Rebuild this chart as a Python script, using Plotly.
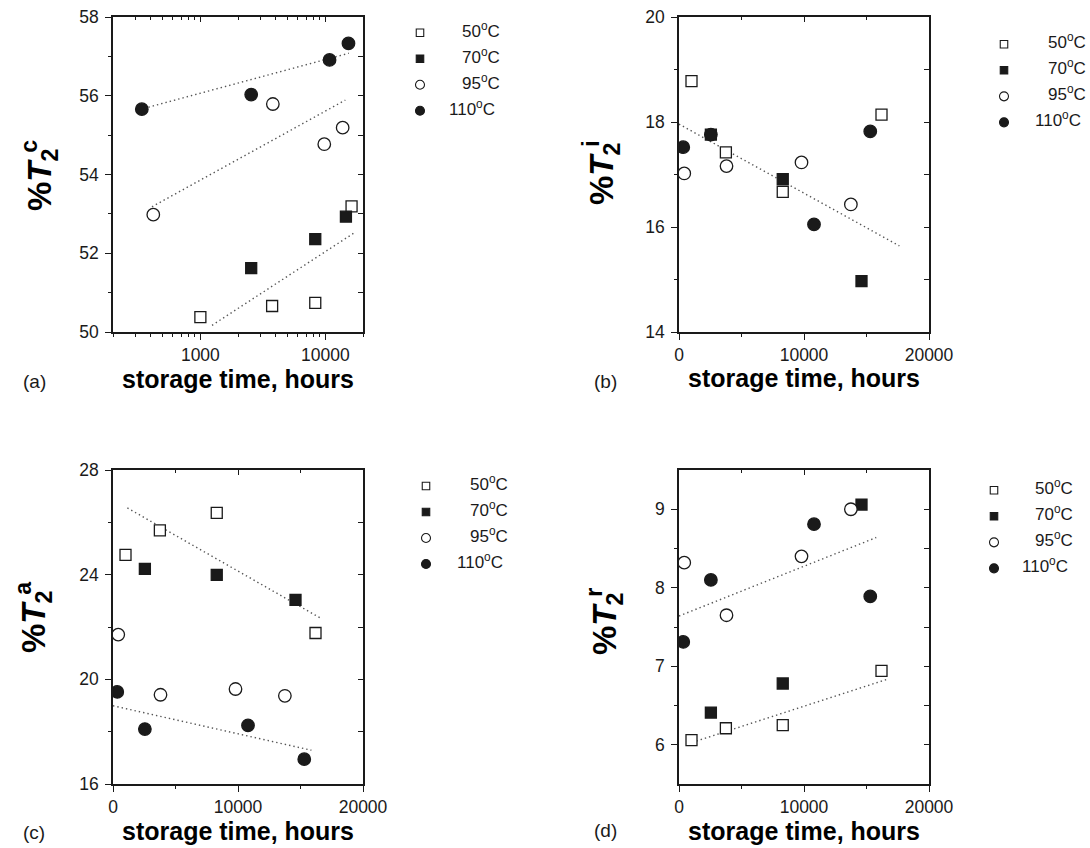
import plotly.graph_objects as go

W, H = 1090, 848
FONT = "Liberation Sans, Arial, sans-serif"
INK = "#1a1a1a"

# ---------------- data ----------------
temps = ["50", "70", "95", "110"]
t50 = [1000, 3750, 8300, 16200]
t70 = [2550, 8300, 14600]
t95 = [420, 3800, 9800, 13750]
t110 = [340, 2550, 10800, 15300]

# (a) %T2c
a50 = [50.38, 50.66, 50.74, 53.19]
a70 = [51.62, 52.36, 52.93]
a95 = [52.98, 55.79, 54.77, 55.19]
a110 = [55.66, 56.03, 56.91, 57.33]
# (b) %T2i
b50 = [18.78, 17.42, 16.67, 18.14]
b70 = [17.76, 16.91, 14.97]
b95 = [17.02, 17.16, 17.23, 16.43]
b110 = [17.52, 17.76, 16.05, 17.82]
# (c) %T2a
c50 = [24.76, 25.69, 26.36, 21.77]
c70 = [24.22, 23.99, 23.04]
c95 = [21.71, 19.41, 19.63, 19.37]
c110 = [19.52, 18.10, 18.24, 16.95]
# (d) %T2r
d50 = [6.06, 6.21, 6.25, 6.94]
d70 = [6.41, 6.78, 9.06]
d95 = [8.32, 7.65, 8.40, 9.00]
d110 = [7.31, 8.10, 8.81, 7.89]

# dotted trend lines (x pair, y pair)
fit_a_x = [[355, 15400], [410, 14450], [1240, 16860]]
fit_a_y = [[55.68, 57.08], [53.18, 55.89], [50.17, 52.51]]
fit_b_x = [[0, 17630]]
fit_b_y = [[17.96, 15.64]]
fit_c_x = [[1150, 16670], [0, 15870]]
fit_c_y = [[26.55, 22.32], [18.99, 17.29]]
fit_d_x = [[0, 15780], [1060, 16580]]
fit_d_y = [[7.64, 8.64], [6.03, 6.83]]

legend_labels = ["50<sup>o</sup>C", "70<sup>o</sup>C", "95<sup>o</sup>C", "110<sup>o</sup>C"]
panel_labels = ["(a)", "(b)", "(c)", "(d)"]
panel_sup = ["c", "i", "a", "r"]
lin_ticks = [0, 10000, 20000]
lin_ticktext = ["0", "10000", "20000"]

# ---------------- helpers ----------------
def px(x):
    return x / W

def py(y):
    return 1 - y / H

styles = {
    "50": dict(symbol="square", color="white", size=11),
    "70": dict(symbol="square", color=INK, size=11),
    "95": dict(symbol="circle", color="white", size=12.5),
    "110": dict(symbol="circle", color=INK, size=12.5),
}

fig = go.Figure()

panels = [
    ("x", "y", "legend", [t50, t70, t95, t110], [a50, a70, a95, a110], fit_a_x, fit_a_y),
    ("x2", "y2", "legend2", [t50, t70, t95, t110], [b50, b70, b95, b110], fit_b_x, fit_b_y),
    ("x3", "y3", "legend3", [t50, t70, t95, t110], [c50, c70, c95, c110], fit_c_x, fit_c_y),
    ("x4", "y4", "legend4", [t50, t70, t95, t110], [d50, d70, d95, d110], fit_d_x, fit_d_y),
]

for xa, ya, lg, xs, ys, fx, fy in panels:
    for lx, ly in zip(fx, fy):
        fig.add_trace(go.Scatter(x=lx, y=ly, mode="lines", xaxis=xa, yaxis=ya,
                                 line=dict(color="#555555", width=1.4, dash="1.4px,3px"),
                                 showlegend=False, hoverinfo="skip"))
    for T, lab, xv, yv in zip(temps, legend_labels, xs, ys):
        st = styles[T]
        fig.add_trace(go.Scatter(x=xv, y=yv, mode="markers", xaxis=xa, yaxis=ya, name=lab,
                                 marker=dict(symbol=st["symbol"], size=st["size"], color=st["color"],
                                             line=dict(color=INK, width=1.3)),
                                 showlegend=False))
    # legend symbols (labels are drawn as right-aligned text next to them)
    for T in temps:
        st = styles[T]
        fig.add_trace(go.Scatter(x=[None], y=[None], mode="markers", xaxis=xa, yaxis=ya,
                                 name="\u00a0", legend=lg,
                                 marker=dict(symbol=st["symbol"], size=st["size"] - 3.5, color=st["color"],
                                             line=dict(color=INK, width=1.1)),
                                 showlegend=True))

base_axis = dict(showline=True, linecolor=INK, linewidth=1.5, mirror=True,
                 ticks="outside", ticklen=6, tickwidth=1.4, tickcolor=INK,
                 showgrid=False, zeroline=False,
                 tickfont=dict(family=FONT, size=17.5, color=INK))

x_left = [113, 363]
x_right = [679, 929]
y_top = [17, 332]
y_bot = [470, 784]

log_minor = [200, 300, 400, 500, 600, 700, 800, 900, 2000, 3000, 4000, 5000, 6000, 7000, 8000, 9000, 20000]
mn = lambda vals: dict(ticks="outside", ticklen=3, tickwidth=1.2, tickcolor=INK, tickvals=vals)

xdefs = {
    "xaxis": dict(base_axis, domain=[px(x_left[0]), px(x_left[1])], anchor="y", type="log",
                  range=[2.30103, 4.30103], tickvals=[1000, 10000], ticktext=["1000", "10000"],
                  minor=mn(log_minor)),
    "xaxis2": dict(base_axis, domain=[px(x_right[0]), px(x_right[1])], anchor="y2",
                   range=[0, 20000], tickvals=lin_ticks, ticktext=lin_ticktext, minor=mn([5000, 15000])),
    "xaxis3": dict(base_axis, domain=[px(x_left[0]), px(x_left[1])], anchor="y3",
                   range=[0, 20000], tickvals=lin_ticks, ticktext=lin_ticktext, minor=mn([5000, 15000])),
    "xaxis4": dict(base_axis, domain=[px(x_right[0]), px(x_right[1])], anchor="y4",
                   range=[0, 20000], tickvals=lin_ticks, ticktext=lin_ticktext, minor=mn([5000, 15000])),
}
ydefs = {
    "yaxis": dict(base_axis, domain=[py(y_top[1]), py(y_top[0])], anchor="x", range=[50, 58],
                  tickvals=[50, 52, 54, 56, 58], minor=mn([51, 53, 55, 57]), ticklabelstandoff=3),
    "yaxis2": dict(base_axis, domain=[py(y_top[1]), py(y_top[0])], anchor="x2", range=[14, 20],
                   tickvals=[14, 16, 18, 20], minor=mn([15, 17, 19]), ticklabelstandoff=3),
    "yaxis3": dict(base_axis, domain=[py(y_bot[1]), py(y_bot[0])], anchor="x3", range=[16, 28],
                   tickvals=[16, 20, 24, 28], minor=mn([18, 22, 26]), ticklabelstandoff=3),
    "yaxis4": dict(base_axis, domain=[py(y_bot[1]), py(y_bot[0])], anchor="x4", range=[5.5, 9.5],
                   tickvals=[6, 7, 8, 9], minor=mn([6.5, 7.5, 8.5]), ticklabelstandoff=3),
}

layout = dict(width=W, height=H, margin=dict(l=0, r=0, t=0, b=0, autoexpand=False),
              paper_bgcolor="white", plot_bgcolor="white", showlegend=True,
              font=dict(family=FONT, color=INK))
layout.update(xdefs)
layout.update(ydefs)

# overlay axes carrying the inward ticks on the top and right edges
for i, (bx, by) in enumerate([("x", "y"), ("x2", "y2"), ("x3", "y3"), ("x4", "y4")]):
    k = i + 5
    xsrc = xdefs["xaxis" if bx == "x" else "xaxis" + bx[1:]]
    ysrc = ydefs["yaxis" if by == "y" else "yaxis" + by[1:]]
    layout["xaxis%d" % k] = dict(overlaying=bx, side="top", anchor=by, type=xsrc.get("type", "linear"),
                                  range=xsrc["range"], tickvals=xsrc["tickvals"], showticklabels=False,
                                  ticks="inside", ticklen=5, tickwidth=1.3, tickcolor=INK,
                                  showline=False, showgrid=False, zeroline=False,
                                  minor=dict(ticks="inside", ticklen=3, tickwidth=1.1, tickcolor=INK,
                                             tickvals=xsrc["minor"]["tickvals"]))
    layout["yaxis%d" % k] = dict(overlaying=by, side="right", anchor=bx,
                                  range=ysrc["range"], tickvals=ysrc["tickvals"], showticklabels=False,
                                  ticks="inside", ticklen=5, tickwidth=1.3, tickcolor=INK,
                                  showline=False, showgrid=False, zeroline=False,
                                  minor=dict(ticks="inside", ticklen=5, tickwidth=1.1, tickcolor=INK,
                                             tickvals=ysrc["minor"]["tickvals"]))
    fig.add_trace(go.Scatter(x=[None], y=[None], xaxis="x%d" % k, yaxis=by, showlegend=False, hoverinfo="skip"))
    fig.add_trace(go.Scatter(x=[None], y=[None], xaxis=bx, yaxis="y%d" % k, showlegend=False, hoverinfo="skip"))

# legends: symbol column x, first row y, row pitch, label right edges
leg_sym_x = [419, 1003, 425, 993]
leg_row0 = [31.7, 43.3, 485, 489.3]
leg_pitch = 26
leg_text_right = [502, 1088, 510, 1075]
for j, name in enumerate(["legend", "legend2", "legend3", "legend4"]):
    layout[name] = dict(x=px(leg_sym_x[j] - 19), y=py(leg_row0[j] - 17), xanchor="left", yanchor="top",
                        bgcolor="rgba(0,0,0,0)", borderwidth=0, itemwidth=30, tracegroupgap=0,
                        font=dict(family=FONT, size=17.7, color=INK))

fig.update_layout(**layout)

# titles and labels
anns = []
xcent = [(x_left[0] + x_left[1]) / 2, (x_right[0] + x_right[1]) / 2] * 2
xtitle_y = [379, 378, 831, 831]
ytitle_x = [40, 602, 33, 604]
ytitle_y = [176, 173, 618, 622]
lab_x = [34, 605, 34, 605]
lab_y = [381, 381, 832, 830]
for i in range(4):
    anns.append(dict(text="storage time, hours", x=px(xcent[i]), y=py(xtitle_y[i]), xref="paper", yref="paper",
                     showarrow=False, xanchor="center", yanchor="middle",
                     font=dict(family=FONT, size=25, color="black", weight="bold")))
    anns.append(dict(text="%<i>T</i><sub><span style=\"letter-spacing:-4px\">2</span></sub><sup>"
                          + panel_sup[i] + "</sup>",
                     x=px(ytitle_x[i]), y=py(ytitle_y[i]), xref="paper", yref="paper", textangle=-90,
                     showarrow=False, xanchor="center", yanchor="middle",
                     font=dict(family=FONT, size=33, color="black", weight="bold")))
    anns.append(dict(text=panel_labels[i], x=px(lab_x[i]), y=py(lab_y[i]), xref="paper", yref="paper",
                     showarrow=False, xanchor="center", yanchor="middle",
                     font=dict(family=FONT, size=19, color=INK)))
    for r, lab in enumerate(legend_labels):
        xr = leg_text_right[i] - (5 if r == 3 else 0)
        anns.append(dict(text=lab, x=px(xr), y=py(leg_row0[i] + r * leg_pitch - 2), xref="paper", yref="paper",
                         showarrow=False, xanchor="right", yanchor="middle",
                         font=dict(family=FONT, size=17, color=INK)))
fig.update_layout(annotations=anns)

fig.write_html("out.html")
